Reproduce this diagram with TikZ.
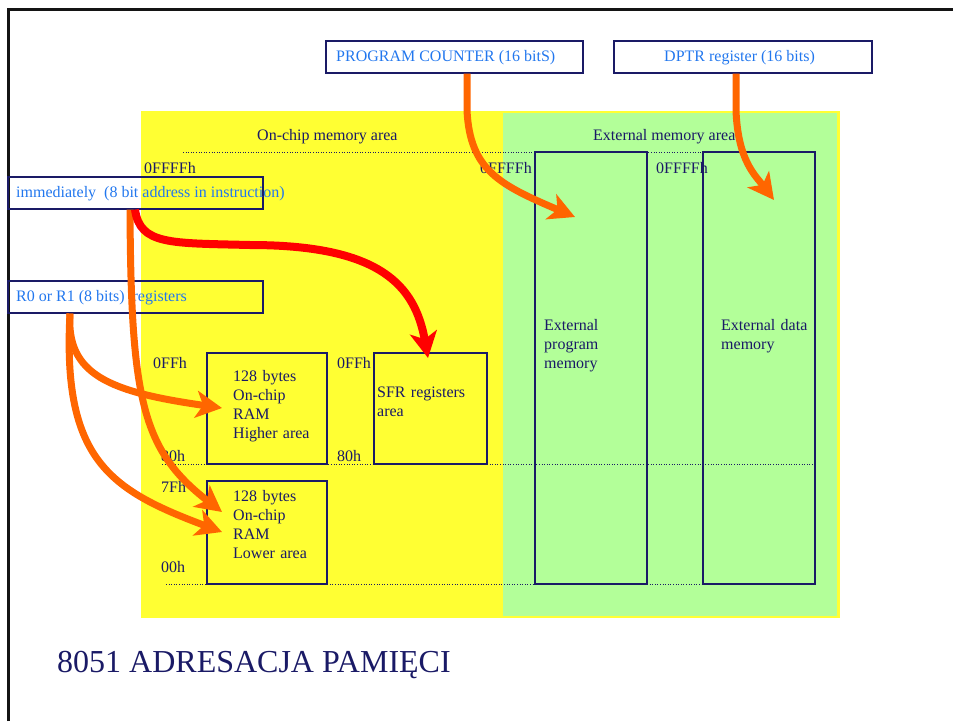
\documentclass[tikz,border=0pt]{standalone}
\usepackage{fontspec}
\setmainfont{Liberation Serif}
\usetikzlibrary{arrows.meta}
\definecolor{yel}{RGB}{255,255,51}
\definecolor{grn}{RGB}{179,255,153}
\definecolor{navy}{RGB}{26,26,102}
\definecolor{lblue}{RGB}{34,119,238}
\definecolor{orng}{RGB}{255,102,0}
\definecolor{rd}{RGB}{255,0,0}
\definecolor{framec}{RGB}{20,20,20}
\begin{document}
\begin{tikzpicture}[x=1pt,y=-1pt,
  lblbox/.style={draw=navy,line width=1.1pt,inner sep=0pt,minimum height=32pt},
  membox/.style={draw=navy,line width=1.1pt,inner sep=0pt},
  lbl/.style={text=lblue,font=\fontsize{16}{19}\selectfont,inner sep=0pt,anchor=base west},
  dark/.style={text=navy,font=\fontsize{16}{19}\selectfont,inner sep=0pt,anchor=base west},
  multi/.style={dark,text width=110pt,align=left},
  dots/.style={navy,line width=0.9pt,dash pattern=on 1pt off 1.6pt},
  fat/.style={line width=7pt,-{Stealth[length=26pt,width=27pt,inset=7pt]}}]
\useasboundingbox (0,0) rectangle (953,721);
% frame
\draw[line width=3pt,framec] (8.5,721) -- (8.5,9.5) -- (953,9.5);
% areas
\fill[yel] (141,111) rectangle (840,618);
\fill[grn] (503,113) rectangle (837,616);
% dotted lines
\draw[dots] (183,152) -- (703,152);
\draw[dots] (162,464) -- (815,464);
\draw[dots] (166,584) -- (815,584);
% memory boxes
\node[membox,minimum width=120pt,minimum height=111pt] (hiram) at (267,408.5) {};
\node[membox,minimum width=113pt,minimum height=111pt] (sfr) at (430.5,408.5) {};
\node[membox,minimum width=120pt,minimum height=103pt] (loram) at (267,532.5) {};
\node[membox,minimum width=112pt,minimum height=432pt] (extprog) at (591,368) {};
\node[membox,minimum width=112pt,minimum height=432pt] (extdata) at (759,368) {};
% label boxes
\node[lblbox,minimum width=257pt] (pc) at (454.5,57) {};
\node[lblbox,minimum width=258pt] (dptr) at (743,57) {};
\node[lblbox,minimum width=255pt] (imm) at (135.5,193) {};
\node[lblbox,minimum width=255pt] (r0) at (135.5,297) {};
% label texts
\node[lbl] (pctxt) at (336,61) {PROGRAM COUNTER (16 bitS)};
\node[lbl] (dptrtxt) at (664,61) {DPTR register (16 bits)};
\node[lbl] (immtxt) at (16,197) {immediately\ \ (8 bit address in instruction)};
\node[lbl] (r0txt) at (16,301) {R0 or R1 (8 bits)\ \ registers};
% area texts
\node[dark] (onchip) at (257,140) {On-chip memory area};
\node[dark] (extarea) at (593,140) {External memory area};
\node[dark] (a1) at (144,173) {0FFFFh};
\node[dark] (a2) at (480,173) {0FFFFh};
\node[dark] (a3) at (656,173) {0FFFFh};
\node[dark] (a4) at (153,368) {0FFh};
\node[dark] (a5) at (161,461) {80h};
\node[dark] (a6) at (337,368) {0FFh};
\node[dark] (a7) at (337,461) {80h};
\node[dark] (a8) at (161,492) {7Fh};
\node[dark] (a9) at (161,572) {00h};
\node[multi] (hitxt) at (233,381) {128 bytes\\On-chip\\RAM\\Higher area};
\node[multi] (lotxt) at (233,501) {128 bytes\\On-chip\\RAM\\Lower area};
\node[multi] (sfrtxt) at (377,397) {SFR registers\\area};
\node[multi,text width=100pt] (eptxt) at (544,330) {External\\program\\memory};
\node[multi,text width=100pt] (edtxt) at (721,330) {External data\\memory};
% title
\node[anchor=base west,text=navy,font=\fontsize{32}{38}\selectfont,inner sep=0pt] (title) at (57,672) {8051 ADRESACJA PAMIĘCI};
% arrow tips
\coordinate (pcTip) at (575,217);
\coordinate (dpTip) at (774,200);
\coordinate (sfrTip) at (428,358);
\coordinate (hiTip) at (222,408);
\coordinate (loTip1) at (222,512);
\coordinate (loTip2) at (222,532);
% arrows
\draw[fat,orng] ([xshift=12.5pt]pc.south) -- ++(0,37) .. controls +(3,60) and (500,185) .. (pcTip);
\draw[fat,orng] ([xshift=-7pt]dptr.south) -- ++(0,37) .. controls +(2,50) and (755,175) .. (dpTip);
\draw[fat,orng] ([xshift=-65.5pt]r0.south) .. controls (66,375) and (110,392) .. (hiTip);
\draw[fat,orng] ([xshift=-65.5pt]r0.south) .. controls (62,460) and (110,490) .. (loTip2);
\draw[fat,orng] ([xshift=-5.5pt]imm.south) .. controls (131,400) and (142,450) .. (loTip1);
\draw[fat,rd,line width=8pt] ([xshift=-0.5pt]imm.south) .. controls (140,245) and (170,243) .. (250,245) .. controls (380,245) and (415,285) .. (sfrTip);
\end{tikzpicture}
\end{document}
